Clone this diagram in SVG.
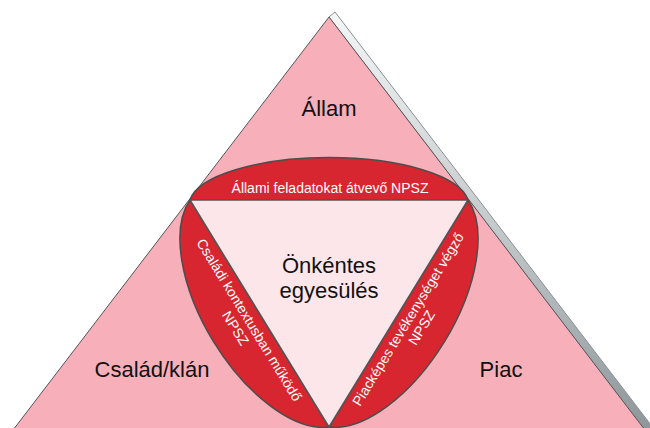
<svg xmlns="http://www.w3.org/2000/svg" width="650" height="428" viewBox="0 0 650 428">
<defs>
<linearGradient id="side" x1="0" y1="12" x2="0" y2="440" gradientUnits="userSpaceOnUse">
<stop offset="0" stop-color="#f4f6f6"/>
<stop offset="0.5" stop-color="#c4c9cb"/>
<stop offset="1" stop-color="#8c9498"/>
</linearGradient>
</defs>
<style>
.big{font-family:"Liberation Sans",Arial,sans-serif;font-size:22px;fill:#111;text-anchor:middle}
.lab{font-family:"Liberation Sans",Arial,sans-serif;font-size:14px;fill:#fff;text-anchor:middle}
.red{fill:#d7262f;stroke:#4d4d4d;stroke-width:1.5}
</style>
<rect width="650" height="428" fill="#fff"/>
<g id="pyramid">
<polygon points="329,17 335,12 662.4,440 652.6,440" fill="url(#side)" stroke="#8a9094" stroke-width="1"/>
<polygon points="329,17 652.6,440 5.4,440" fill="#f7afba" stroke="#555" stroke-width="1"/>
<text class="big" x="329" y="116">Állam</text>
<text class="big" x="152" y="377">Család/klán</text>
<text class="big" x="501" y="377">Piac</text>
</g>
<g id="npsz-allami">
<path class="red" d="M190,200 A139.8,47.5 0 0 1 468,200 Z"/>
<text class="lab" x="330" y="193">Állami feladatokat átvevő NPSZ</text>
</g>
<g id="npsz-csaladi">
<path class="red" d="M190,200 A136.4,69 58.5 0 0 329,427 Z"/>
</g>
<g id="npsz-piac">
<path class="red" d="M329,427 A136.4,69 -58.5 0 0 468,200 Z"/>
</g>
<g id="onkentes">
<polygon points="190,200 468,200 329,427" fill="#fde6ea" stroke="#555" stroke-width="1.5" stroke-linejoin="round"/>
<text class="big" x="329" y="273">Önkéntes</text>
<text class="big" x="329" y="298">egyesülés</text>
</g>
<g id="labels-rotated">
<g transform="translate(259.5,313.5) rotate(58.5)">
<text class="lab" x="0" y="17">Családi kontextusban működő</text>
<text class="lab" x="0" y="33">NPSZ</text>
</g>
<g transform="translate(398.5,313.5) rotate(-58.5)">
<text class="lab" x="0" y="16">Piacképes tevékenységet végző</text>
<text class="lab" x="0" y="32">NPSZ</text>
</g>
</g>
<g id="connectors"/>
</svg>
